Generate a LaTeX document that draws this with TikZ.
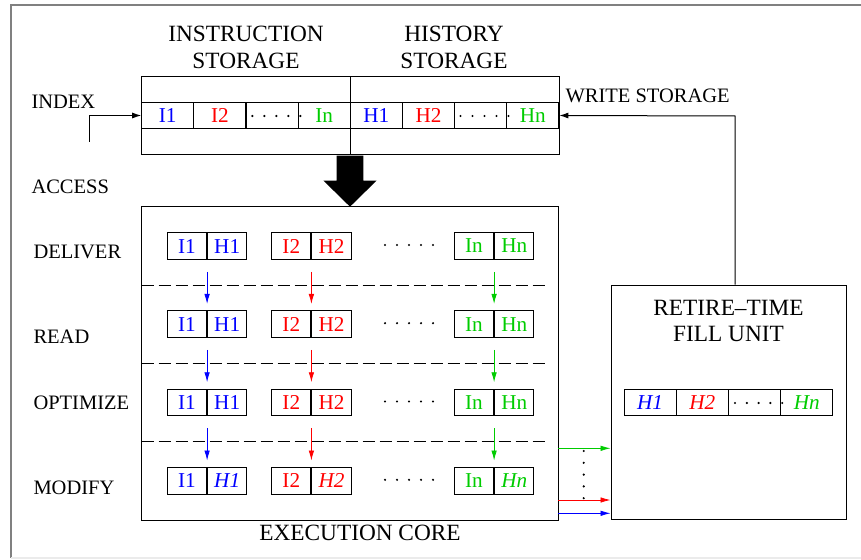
\documentclass[tikz,border=0pt]{standalone}
\usepackage{fontspec}
\setmainfont{Liberation Serif}
\usetikzlibrary{arrows.meta}
\definecolor{cb}{rgb}{0,0,1}
\definecolor{cr}{rgb}{1,0,0}
\definecolor{cg}{rgb}{0,0.8,0}
\newcommand{\bigf}{\fontsize{23.3}{26}\selectfont}
\newcommand{\cellf}{\fontsize{21.2}{24}\selectfont}
\newcommand{\lblf}{\fontsize{20.5}{24}\selectfont}
\begin{document}
\begin{tikzpicture}[x=1pt,y=-1pt, line width=1pt,
 every node/.style={font=\bigf, inner sep=0pt},
 cell/.style={draw, minimum width=52.1pt, minimum height=25.6pt, font=\cellf},
 icell/.style={cell, font=\cellf\itshape},
 pcell/.style={draw, minimum width=39.2pt, minimum height=26.5pt, font=\cellf},
 ipcell/.style={pcell, font=\cellf\itshape},
 lbl/.style={anchor=west, font=\lblf},
 arr/.style={-{Latex[length=9pt,width=6pt]}},
 sarr/.style={-{Latex[length=10pt,width=5.5pt]}, line width=0.8pt},
 dsh/.style={dash pattern=on 12pt off 5pt},
 dotc/.style={fill, circle, minimum size=2.4pt}]
\useasboundingbox (0,0) rectangle (861,559);
% frame
\draw[black!50, line width=2pt] (11,558) -- (11,5) -- (861,5);
\draw[black!8, line width=1.5pt] (11,558) -- (861,558);

% storage
\node[draw, minimum width=417.3pt, minimum height=78pt] (stor) at (350.35,115.7) {};
\draw (350,76.7) -- (350,154.7);
\foreach \t/\c [count=\i] in {I1/cb, I2/cr, /black, In/cg, H1/cb, H2/cr, /black, Hn/cg}{
  \node[cell, text=\c] (s\i) at ({141.7+26.05+52.15*(\i-1)},115.5) {\t};
}
\foreach \k in {0,...,4}{
  \node[dotc] (sd\k) at ({252.3+12*\k},116) {};
  \node[dotc] (hd\k) at ({460.5+12*\k},116) {};
}
\node (tit1) at (246,49.5) {\begin{tabular}{@{}c@{}}INSTRUCTION\\[1pt]STORAGE\end{tabular}};
\node (tit2) at (454,49.5) {\begin{tabular}{@{}c@{}}HISTORY\\[1pt]STORAGE\end{tabular}};

% labels
\node[lbl] (lindex) at (31,102) {INDEX};
\node[lbl] (laccess) at (31,187) {ACCESS};
\node[lbl] (ldeliver) at (33,252) {DELIVER};
\node[lbl] (lread) at (33,337) {READ};
\node[lbl] (lopt) at (33,403) {OPTIMIZE};
\node[lbl] (lmod) at (33,488) {MODIFY};
\node[lbl] (lwrite) at (565,96) {WRITE STORAGE};

% index arrow
\coordinate (ix) at (89,141.7);
\draw[arr] (ix) |- (s1.west);

% big arrow
\fill (336.7,155.5) -- (363.3,155.5) -- (363.3,180.5) -- (376.7,180.5) -- (350,206.7) -- (323.3,180.5) -- (336.7,180.5) -- cycle;

% execution core
\node[draw, minimum width=416.6pt, minimum height=313.3pt] (core) at (350,363.35) {};
\node (lcore) at (360,533) {EXECUTION CORE};

\foreach \r/\y in {1/246,2/324.2,3/402.5,4/480.8}{
  \node[pcell, text=cb] (a\r) at (187,\y) {I1};
  \node[pcell, text=cr] (b\r) at (291.3,\y) {I2};
  \node[pcell, text=cg] (c\r) at (474,\y) {In};
  \foreach \k in {0,...,4}{ \node[dotc] at ({385+12*\k},{\y-1}) {}; }
}
\foreach \r/\y in {1/246,2/324.2,3/402.5}{
  \node[pcell, text=cb, anchor=west] (ah\r) at (a\r.east) {H1};
  \node[pcell, text=cr, anchor=west] (bh\r) at (b\r.east) {H2};
  \node[pcell, text=cg, anchor=west] (ch\r) at (c\r.east) {Hn};
}
\node[ipcell, text=cb, anchor=west] (ah4) at (a4.east) {H1};
\node[ipcell, text=cr, anchor=west] (bh4) at (b4.east) {H2};
\node[ipcell, text=cg, anchor=west] (ch4) at (c4.east) {Hn};

\foreach \y in {285,363.3,441.3}{ \draw[dsh] (141.7,\y) -- (548,\y); }

\foreach \r/\n in {1/2,2/3,3/4}{
  \draw[sarr, cb] ([yshift=-12pt]a\r.south east) -- ([yshift=6.5pt]a\n.north east);
  \draw[sarr, cr] ([yshift=-12pt]b\r.south east) -- ([yshift=6.5pt]b\n.north east);
  \draw[sarr, cg] ([yshift=-12pt]c\r.south east) -- ([yshift=6.5pt]c\n.north east);
}

% fill unit
\node[draw, minimum width=235pt, minimum height=234.3pt] (fill) at (728.5,402.15) {};
\node (lfill) at (728.5,323) {\begin{tabular}{@{}c@{}}RETIRE\textendash TIME\\[0pt]FILL UNIT\end{tabular}};
\foreach \t/\c [count=\i] in {H1/cb, H2/cr, /black, Hn/cg}{
  \node[icell, text=\c] (f\i) at ({624+26.1+52.25*(\i-1)},402.5) {\t};
}
\foreach \k in {0,...,4}{ \node[dotc] at ({735+11.8*\k},403) {}; }

% connectors core -> fill
\coordinate (og) at (558.3,448.3);
\coordinate (or) at (558.3,500);
\coordinate (ob) at (558.3,513.3);
\draw[sarr, cg] (og) -- (og -| fill.west);
\draw[sarr, cr] (or) -- (or -| fill.west);
\draw[sarr, cb] (ob) -- (ob -| fill.west);
\foreach \k in {0,...,4}{ \node[dotc] at (583.7,{451+11.8*\k}) {}; }

% write storage
\coordinate (wr) at (735,116);
\draw[arr] (fill.north -| wr) -- (wr) -- (s8.east);
\end{tikzpicture}
\end{document}
